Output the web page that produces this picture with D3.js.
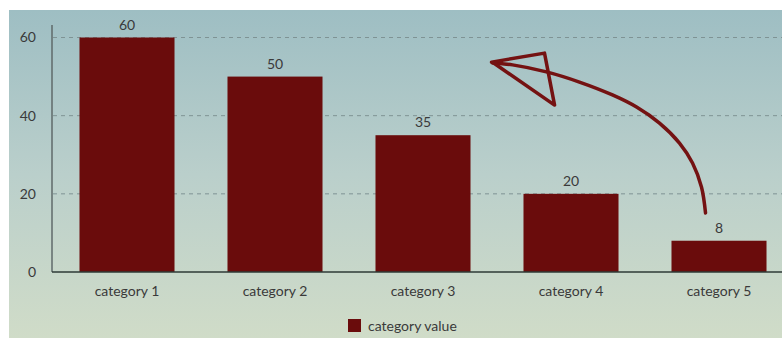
<!DOCTYPE html>
<html>
<head>
<meta charset="utf-8">
<script src="https://cdn.jsdelivr.net/npm/d3@7/dist/d3.min.js"></script>
<style>
  html, body { margin: 0; padding: 0; background: #ffffff; }
  svg { display: block; font-family: Lato, "Open Sans", sans-serif; }
</style>
</head>
<body>
<svg id="chart" width="782" height="338"></svg>
<script>
// Chart data
const categories = ["category 1", "category 2", "category 3", "category 4", "category 5"];
const values = [60, 50, 35, 20, 8];
const yTicks = [0, 20, 40, 60];
const seriesName = "category value";

// Hand-drawn annotation arrow, in data space:
// [position in category steps from the first category centre, value]
const arrowShaft = [
  [3.909, 15.1], [3.882, 21.7], [3.821, 27.9], [3.733, 33.0], [3.598, 38.1],
  [3.443, 42.2], [3.280, 45.3], [3.057, 48.6], [2.834, 51.2], [2.605, 53.0],
  [2.470, 53.5]
];
const arrowHead = [
  [2.463, 53.7], [2.821, 56.0], [2.889, 42.7], [2.480, 53.4]
];

const W = 782, H = 338;
const svg = d3.select("#chart");

// Background panel with vertical gradient
const defs = svg.append("defs");
const grad = defs.append("linearGradient")
  .attr("id", "bg").attr("x1", 0).attr("y1", 0).attr("x2", 0).attr("y2", 1);
grad.append("stop").attr("offset", "0%").attr("stop-color", "#9ebec3");
grad.append("stop").attr("offset", "50%").attr("stop-color", "#bacfcb");
grad.append("stop").attr("offset", "100%").attr("stop-color", "#d0dcc8");
svg.append("rect").attr("x", 9).attr("y", 10).attr("width", W - 9).attr("height", H - 10)
  .attr("fill", "url(#bg)");

// Scales
const x = d3.scaleBand().domain(categories).range([53, 793]).paddingInner(0.358).paddingOuter(0.179);
const y = d3.scaleLinear().domain([0, 60]).range([272, 37.5]);
const step = x.step();
const cx0 = x(categories[0]) + x.bandwidth() / 2;
const ax = d => cx0 + d[0] * step;
const ay = d => y(d[1]);

// Dashed gridlines
svg.append("g").selectAll("line").data(yTicks.filter(t => t > 0)).join("line")
  .attr("x1", 53).attr("x2", W)
  .attr("y1", d => y(d)).attr("y2", d => y(d))
  .attr("stroke", "#7f9394").attr("stroke-width", 1).attr("stroke-dasharray", "4,4");

// Y axis
const yAxis = svg.append("g").attr("transform", "translate(52,0)")
  .call(d3.axisLeft(y).tickValues(yTicks).tickSize(0).tickPadding(16).tickFormat(d3.format("d")));
yAxis.select(".domain").remove();
yAxis.selectAll("text").attr("font-size", 14).attr("fill", "#3a3a3a")
  .attr("font-family", "Lato, 'Open Sans', sans-serif");
svg.append("line").attr("x1", 52).attr("x2", 52).attr("y1", 25).attr("y2", 272)
  .attr("stroke", "#5f6a6a").attr("stroke-width", 1.5);

// Bars
svg.append("g").selectAll("rect").data(values).join("rect")
  .attr("x", (d, i) => x(categories[i]))
  .attr("y", d => y(d))
  .attr("width", x.bandwidth())
  .attr("height", d => y(0) - y(d))
  .attr("fill", "#6a0c0c");

// Value labels
svg.append("g").selectAll("text").data(values).join("text")
  .attr("x", (d, i) => x(categories[i]) + x.bandwidth() / 2)
  .attr("y", d => y(d) - 8)
  .attr("text-anchor", "middle")
  .attr("font-size", 14).attr("fill", "#3a3a3a")
  .text(d => d);

// Baseline
svg.append("line").attr("x1", 52).attr("x2", W).attr("y1", 272).attr("y2", 272)
  .attr("stroke", "#2e3a36").attr("stroke-width", 1.5);

// X axis labels
const xAxis = svg.append("g").attr("transform", "translate(0,272)")
  .call(d3.axisBottom(x).tickSize(0).tickPadding(14));
xAxis.select(".domain").remove();
xAxis.selectAll("text").attr("font-size", 14).attr("fill", "#3a3a3a")
  .attr("font-family", "Lato, 'Open Sans', sans-serif");

// Legend
const legend = svg.append("g").attr("transform", "translate(348,319)");
legend.append("rect").attr("width", 13).attr("height", 13).attr("fill", "#6a0c0c");
legend.append("text").attr("x", 20).attr("y", 7).attr("dy", "0.35em")
  .attr("font-size", 14).attr("fill", "#3a3a3a").text(seriesName);

// Annotation arrow
svg.append("path").datum(arrowShaft)
  .attr("d", d3.line().x(ax).y(ay).curve(d3.curveCatmullRom))
  .attr("fill", "none").attr("stroke", "#741212").attr("stroke-width", 3.5)
  .attr("stroke-linecap", "round").attr("stroke-linejoin", "round");
svg.append("path").datum(arrowHead)
  .attr("d", d3.line().x(ax).y(ay).curve(d3.curveLinear))
  .attr("fill", "none").attr("stroke", "#741212").attr("stroke-width", 3.5)
  .attr("stroke-linecap", "round").attr("stroke-linejoin", "round");
</script>
</body>
</html>
